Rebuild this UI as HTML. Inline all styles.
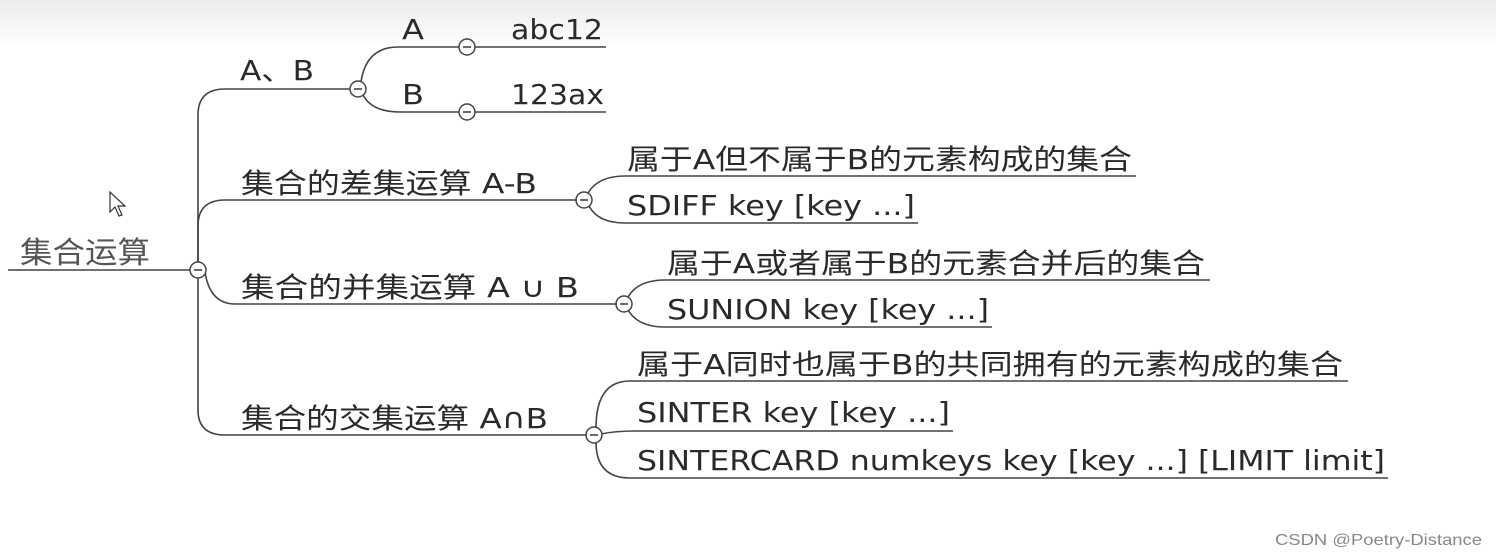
<!DOCTYPE html>
<html><head><meta charset="utf-8"><style>
html,body{margin:0;padding:0;background:#fff;}
svg{display:block}
text{font-family:"DejaVu Sans","Liberation Sans","Noto Sans CJK SC",sans-serif;fill:#2a2a2a;font-size:28px}
.c{fill:#555}
</style></head><body>
<svg width="1496" height="558" viewBox="0 0 1496 558">
<defs><linearGradient id="g" x1="0" y1="0" x2="0" y2="1"><stop offset="0" stop-color="#ececec"/><stop offset="1" stop-color="#fff"/></linearGradient></defs>
<rect x="0" y="0" width="1496" height="48" fill="url(#g)"/>
<g fill="none" stroke="#444" stroke-width="1.6">
<line x1="8" y1="270" x2="190" y2="270"/>
<path d="M198 263 V115 Q198 89 225 89 H351"/>
<path d="M198 263 V226 Q198 200 225 200 H577"/>
<path d="M205 272 Q210 304 235 304 H617"/>
<path d="M198 277 V410 Q198 435 225 435 H587"/>
<path d="M361 82 Q366 47 398 47 H460"/>
<path d="M363 95 Q372 112 400 112 H460"/>
<line x1="474" y1="47" x2="606" y2="47"/>
<line x1="474" y1="112" x2="606" y2="112"/>
<path d="M588 193 Q598 176 625 176 H1136"/>
<path d="M589 206 Q598 223 625 223 H918"/>
<path d="M628 297 Q638 280 665 280 H1210"/>
<path d="M628 310 Q638 327 665 327 H992"/>
<path d="M596 428 Q596 381 630 381 H1348"/>
<path d="M601 434 Q615 431 635 431 H953"/>
<path d="M596 442 Q596 478 630 478 H1388"/>
</g>
<g fill="#fff" stroke="#444" stroke-width="1.5">
<circle cx="198" cy="270" r="8"/>
<circle cx="358" cy="89" r="8"/>
<circle cx="467" cy="47" r="8"/>
<circle cx="467" cy="112" r="8"/>
<circle cx="584" cy="200" r="8"/>
<circle cx="624" cy="304" r="8"/>
<circle cx="594" cy="435" r="8"/>
</g>
<g stroke="#444" stroke-width="1.6">
<line x1="194" y1="270" x2="202" y2="270"/>
<line x1="354" y1="89" x2="362" y2="89"/>
<line x1="463" y1="47" x2="471" y2="47"/>
<line x1="463" y1="112" x2="471" y2="112"/>
<line x1="580" y1="200" x2="588" y2="200"/>
<line x1="620" y1="304" x2="628" y2="304"/>
<line x1="590" y1="435" x2="598" y2="435"/>
</g>
<path d="M110 192 L110 212 L115 207 L119 216 L122 215 L118 206 L125 206 Z" fill="#fff" stroke="#333" stroke-width="1.2"/>
<text x="20" y="263" textLength="130" lengthAdjust="spacingAndGlyphs" class="c" style="font-size:30px">集合运算</text>
<text x="240" y="80" textLength="74" lengthAdjust="spacingAndGlyphs">A、B</text>
<text x="402" y="39" textLength="22" lengthAdjust="spacingAndGlyphs">A</text>
<text x="511" y="39" textLength="92" lengthAdjust="spacingAndGlyphs">abc12</text>
<text x="402" y="104" textLength="22" lengthAdjust="spacingAndGlyphs">B</text>
<text x="511" y="104" textLength="93" lengthAdjust="spacingAndGlyphs">123ax</text>
<text x="241" y="193" textLength="296" lengthAdjust="spacingAndGlyphs">集合的差集运算 A-B</text>
<text x="241" y="297" textLength="338" lengthAdjust="spacingAndGlyphs">集合的并集运算 A ∪ B</text>
<text x="241" y="428" textLength="307" lengthAdjust="spacingAndGlyphs">集合的交集运算 A∩B</text>
<text x="627" y="169" textLength="505" lengthAdjust="spacingAndGlyphs">属于A但不属于B的元素构成的集合</text>
<text x="627" y="215" textLength="288" lengthAdjust="spacingAndGlyphs">SDIFF key [key ...]</text>
<text x="667" y="273" textLength="538" lengthAdjust="spacingAndGlyphs">属于A或者属于B的元素合并后的集合</text>
<text x="667" y="319" textLength="322" lengthAdjust="spacingAndGlyphs">SUNION key [key ...]</text>
<text x="637" y="374" textLength="706" lengthAdjust="spacingAndGlyphs">属于A同时也属于B的共同拥有的元素构成的集合</text>
<text x="637" y="422" textLength="313" lengthAdjust="spacingAndGlyphs">SINTER key [key ...]</text>
<text x="637" y="470" textLength="748" lengthAdjust="spacingAndGlyphs">SINTERCARD numkeys key [key ...] [LIMIT limit]</text>
<text x="1275" y="545" textLength="207" lengthAdjust="spacingAndGlyphs" style="font-family:'Liberation Sans',sans-serif;font-size:16px;fill:#888">CSDN @Poetry-Distance</text>
</svg>
</body></html>
